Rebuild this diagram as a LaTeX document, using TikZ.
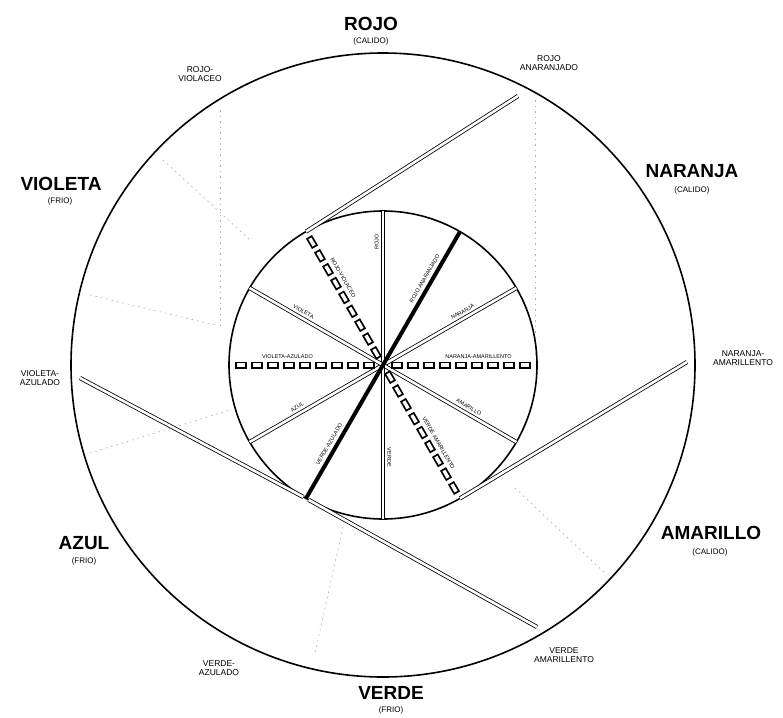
\documentclass[tikz,border=0pt]{standalone}
\usepackage{fontspec}
\setmainfont{Liberation Sans}
\usetikzlibrary{calc}
\begin{document}
\begin{tikzpicture}[x=1pt,y=-1pt,
 rim/.style={line width=1.6pt},
 tube/.style={draw=black,line width=0.8pt,double=white,double distance=2.6pt},
 chainout/.style={line width=7pt,line cap=butt,dash pattern=on 12pt off 4pt,shorten <=8pt,shorten >=4pt},
 chainin/.style={white,line width=3.4pt,line cap=butt,dash pattern=on 0pt off 1.8pt on 8.4pt off 5.8pt,shorten <=8pt,shorten >=4pt},
 thickline/.style={line width=4pt},
 faint/.style={gray!60,line width=0.7pt,dash pattern=on 1.5pt off 4pt},
 big/.style={font=\fontsize{19}{19}\selectfont\bfseries, inner sep=0pt},
 sub/.style={font=\fontsize{8}{8}\selectfont, inner sep=0pt},
 small/.style={font=\fontsize{8.5}{9.5}\selectfont, align=center, inner sep=0pt},
 spk/.style={font=\fontsize{5.5}{6}\selectfont, inner sep=0pt, sloped}
]
\useasboundingbox (0,0) rectangle (783,717);
\coordinate (O) at (383,365);
\foreach \a in {0,30,...,330} { \path (O) ++(-\a:154) coordinate (I\a); }

% faint guide lines
\coordinate (f1a) at (535,100); \coordinate (f1b) at (535,355);
\coordinate (f2a) at (220,110); \coordinate (f2b) at (220,330);
\coordinate (f3a) at (163,160); \coordinate (f3b) at (250,240);
\coordinate (f4a) at (90,295);  \coordinate (f4b) at (215,325);
\coordinate (f5a) at (90,453);  \coordinate (f5b) at (230,410);
\coordinate (f6a) at (343,527); \coordinate (f6b) at (315,653);
\coordinate (f7a) at (515,488); \coordinate (f7b) at (607,575);
\foreach \i in {1,...,7} { \draw[faint] (f\i a) -- (f\i b); }

% circles
\draw[rim] (O) circle[radius=312];
\draw[rim] (O) circle[radius=154];

% tangent tubes
\coordinate (E60) at (518,96);
\coordinate (E180) at (80,378);
\coordinate (E300) at (537,627);
\coordinate (E0) at (687,362);
\draw[tube] (I120) -- (E60);
\draw[tube, shorten >=3pt] (E180) -- (I240);
\draw[tube, shorten <=3pt] (I240) -- (E300);
\draw[tube] (I300) -- (E0);

% spokes
\draw[tube] (O) -- (I90) node[spk,pos=0.8,above=4pt] {ROJO};
\draw[tube] (O) -- (I30) node[spk,pos=0.62,above=4pt] {NARANJA};
\draw[tube] (O) -- (I330) node[spk,pos=0.62,above=4pt] {AMARILLO};
\draw[tube] (O) -- (I270) node[spk,pos=0.6,above=4pt] {VERDE};
\draw[tube] (O) -- (I210) node[spk,pos=0.62,above=4pt] {AZUL};
\draw[tube] (O) -- (I150) node[spk,pos=0.62,above=4pt] {VIOLETA};
\foreach \a in {0,120,180,300} {
  \draw[chainout] (O) -- (I\a);
  \draw[chainin] (O) -- (I\a);
}
\path (O) -- (I0) node[spk,pos=0.62,above=6pt] {NARANJA-AMARILLENTO};
\path (O) -- (I300) node[spk,pos=0.62,above=7pt] {VERDE AMARILLENTO};
\path (O) -- (I180) node[spk,pos=0.62,above=6pt] {VIOLETA-AZULADO};
\path (O) -- (I120) node[spk,pos=0.62,above=7pt] {ROJO-VIOLACEO};
\draw[thickline] (I60) -- (I240);
\path (O) -- (I60) node[spk,pos=0.62,above=5pt] {ROJO ANARANJADO};
\path (O) -- (I240) node[spk,pos=0.62,above=5pt] {VERDE-AZULADO};

% outer labels
\node[big] (rojo) at (371,24) {ROJO};
\node[sub] (rojoc) at (371,41) {(CALIDO)};
\node[small] (rojoan) at (549,63) {ROJO\\ANARANJADO};
\node[big] (naranja) at (692,171) {NARANJA};
\node[sub] (naranjac) at (692,190) {(CALIDO)};
\node[small] (naram) at (743,358) {NARANJA-\\AMARILLENTO};
\node[big] (amarillo) at (711,533) {AMARILLO};
\node[sub] (amarilloc) at (710,552) {(CALIDO)};
\node[small] (veram) at (564,655) {VERDE\\AMARILLENTO};
\node[big] (verde) at (391,693) {VERDE};
\node[sub] (verdec) at (391,710) {(FRIO)};
\node[small] (verazu) at (219,668) {VERDE-\\AZULADO};
\node[big] (azul) at (84,543) {AZUL};
\node[sub] (azulc) at (84,561) {(FRIO)};
\node[small] (vioazu) at (40,378) {VIOLETA-\\AZULADO};
\node[big] (violeta) at (61,184) {VIOLETA};
\node[sub] (violetac) at (60,201) {(FRIO)};
\node[small] (rojovi) at (200,74) {ROJO-\\VIOLACEO};
\end{tikzpicture}
\end{document}
